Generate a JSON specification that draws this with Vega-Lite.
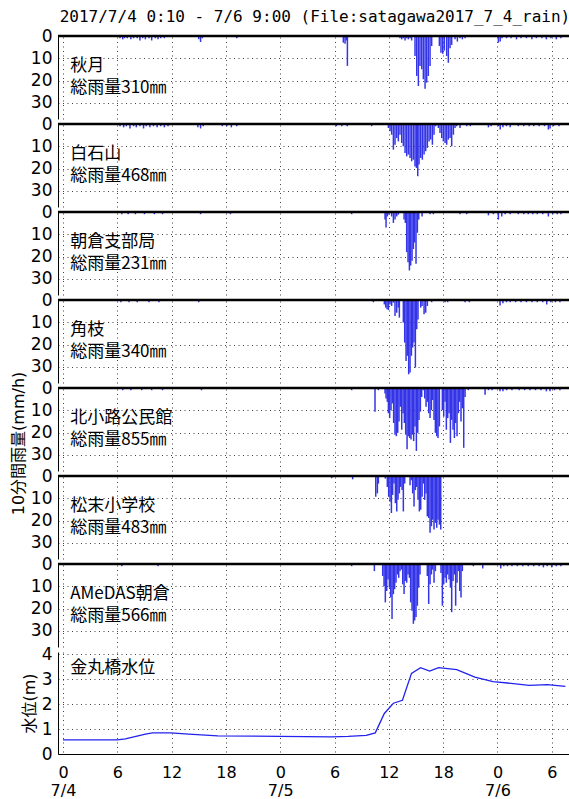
{
  "$schema": "https://vega.github.io/schema/vega-lite/v6.json",
  "padding": {"left": 10, "top": 9, "right": 0, "bottom": 0},
  "bounds": "flush",
  "title": {"text": "2017/7/4 0:10 - 7/6 9:00 (File:satagawa2017_7_4_rain)", "font": "DejaVu Sans Mono", "fontSize": 16, "fontWeight": "normal", "anchor": "end", "offset": 2, "color": "#000"},
  "config": {
    "view": {"stroke": null},
    "axis": {"gridColor": "#000", "gridDash": [1, 3.5], "gridOpacity": 0.75, "gridWidth": 1, "labelFont": "DejaVu Sans", "labelFontSize": 17, "labelColor": "#000", "labelOverlap": false, "domainColor": "#000", "domainWidth": 1, "titleFont": "'DejaVu Sans', 'Noto Sans CJK JP'", "titleFontSize": 16, "titleFontWeight": "normal", "titleColor": "#000", "ticks": false, "labelPadding": 6, "titlePadding": 4}
  },
  "datasets": {
    "labels": [
      {"s": "秋月", "name": "秋月", "total": "総雨量310㎜"},
      {"s": "白石山", "name": "白石山", "total": "総雨量468㎜"},
      {"s": "朝倉支部局", "name": "朝倉支部局", "total": "総雨量231㎜"},
      {"s": "角枝", "name": "角枝", "total": "総雨量340㎜"},
      {"s": "北小路公民館", "name": "北小路公民館", "total": "総雨量855㎜"},
      {"s": "松末小学校", "name": "松末小学校", "total": "総雨量483㎜"},
      {"s": "AMeDAS朝倉", "name": "AMeDAS朝倉", "total": "総雨量566㎜"},
      {"s": "金丸橋", "name": "金丸橋水位", "total": ""}
    ],
    "level": [
      {"t": 0, "v": 0.57}, {"t": 6, "v": 0.57}, {"t": 6.9, "v": 0.61}, {"t": 9.1, "v": 0.8}, {"t": 9.9, "v": 0.85}, {"t": 11.9, "v": 0.85}, {"t": 13.9, "v": 0.8}, {"t": 17.1, "v": 0.73}, {"t": 23.9, "v": 0.71}, {"t": 29.7, "v": 0.69}, {"t": 31.5, "v": 0.71}, {"t": 33.5, "v": 0.75}, {"t": 34.5, "v": 0.85}, {"t": 35.5, "v": 1.63}, {"t": 36.5, "v": 2.04}, {"t": 37.5, "v": 2.16}, {"t": 38.5, "v": 3.24}, {"t": 39.5, "v": 3.47}, {"t": 40.5, "v": 3.33}, {"t": 41.5, "v": 3.47}, {"t": 43.5, "v": 3.39}, {"t": 45.5, "v": 3.09}, {"t": 47.5, "v": 2.91}, {"t": 49.5, "v": 2.84}, {"t": 51.5, "v": 2.76}, {"t": 53.5, "v": 2.79}, {"t": 55.5, "v": 2.72}
    ],
    "rain": [
      {"s": "秋月", "t": 6.3, "v": 1}, {"s": "秋月", "t": 6.6, "v": 1.5}, {"s": "秋月", "t": 6.8, "v": 1}, {"s": "秋月", "t": 7.1, "v": 1}, {"s": "秋月", "t": 7.5, "v": 1.5}, {"s": "秋月", "t": 7.8, "v": 1}, {"s": "秋月", "t": 8.2, "v": 1}, {"s": "秋月", "t": 8.5, "v": 2}, {"s": "秋月", "t": 8.8, "v": 1}, {"s": "秋月", "t": 9.1, "v": 1.5}, {"s": "秋月", "t": 9.5, "v": 1}, {"s": "秋月", "t": 9.8, "v": 2}, {"s": "秋月", "t": 10.2, "v": 1}, {"s": "秋月", "t": 10.5, "v": 1.5}, {"s": "秋月", "t": 10.8, "v": 1}, {"s": "秋月", "t": 11.2, "v": 1},
      {"s": "秋月", "t": 15.0, "v": 1.5}, {"s": "秋月", "t": 15.2, "v": 2.7}, {"s": "秋月", "t": 15.4, "v": 1}, {"s": "秋月", "t": 19.2, "v": 1},
      {"s": "秋月", "t": 30.97, "v": 3}, {"s": "秋月", "t": 31.16, "v": 3.5}, {"s": "秋月", "t": 31.3, "v": 2}, {"s": "秋月", "t": 31.42, "v": 13.4},
      {"s": "秋月", "t": 37.23, "v": 1}, {"s": "秋月", "t": 37.42, "v": 1.5}, {"s": "秋月", "t": 37.6, "v": 1}, {"s": "秋月", "t": 37.79, "v": 2}, {"s": "秋月", "t": 37.97, "v": 1}, {"s": "秋月", "t": 38.15, "v": 1.5}, {"s": "秋月", "t": 38.34, "v": 1}, {"s": "秋月", "t": 38.52, "v": 2},
      {"s": "秋月", "t": 38.89, "v": 9}, {"s": "秋月", "t": 39.08, "v": 17.9}, {"s": "秋月", "t": 39.26, "v": 22.4}, {"s": "秋月", "t": 39.44, "v": 13.4}, {"s": "秋月", "t": 39.63, "v": 14.9}, {"s": "秋月", "t": 39.81, "v": 19.4}, {"s": "秋月", "t": 40.0, "v": 23.6}, {"s": "秋月", "t": 40.18, "v": 20.9}, {"s": "秋月", "t": 40.36, "v": 17.9}, {"s": "秋月", "t": 40.55, "v": 13.4}, {"s": "秋月", "t": 40.73, "v": 4.5},
      {"s": "秋月", "t": 41.58, "v": 4.5}, {"s": "秋月", "t": 41.76, "v": 7.5}, {"s": "秋月", "t": 41.95, "v": 8}, {"s": "秋月", "t": 42.13, "v": 6.5}, {"s": "秋月", "t": 42.39, "v": 9}, {"s": "秋月", "t": 42.57, "v": 12}, {"s": "秋月", "t": 42.76, "v": 5.5}, {"s": "秋月", "t": 42.94, "v": 4},
      {"s": "秋月", "t": 43.31, "v": 1.5}, {"s": "秋月", "t": 43.57, "v": 2.5}, {"s": "秋月", "t": 43.86, "v": 1}, {"s": "秋月", "t": 44.12, "v": 1.5}, {"s": "秋月", "t": 44.42, "v": 1},
      {"s": "秋月", "t": 48.1, "v": 3}, {"s": "秋月", "t": 48.3, "v": 2.5}, {"s": "秋月", "t": 48.5, "v": 1}, {"s": "秋月", "t": 49.0, "v": 1}, {"s": "秋月", "t": 49.5, "v": 1}, {"s": "秋月", "t": 50.1, "v": 1.5}, {"s": "秋月", "t": 50.6, "v": 1}, {"s": "秋月", "t": 51.2, "v": 1}, {"s": "秋月", "t": 51.8, "v": 1.5}, {"s": "秋月", "t": 52.3, "v": 1}, {"s": "秋月", "t": 52.9, "v": 1}, {"s": "秋月", "t": 53.4, "v": 1.5}, {"s": "秋月", "t": 53.9, "v": 1}, {"s": "秋月", "t": 54.5, "v": 1.5}, {"s": "秋月", "t": 55.0, "v": 1},

      {"s": "白石山", "t": 6.3, "v": 1}, {"s": "白石山", "t": 6.7, "v": 1.5}, {"s": "白石山", "t": 7.0, "v": 1}, {"s": "白石山", "t": 7.4, "v": 2}, {"s": "白石山", "t": 7.8, "v": 1}, {"s": "白石山", "t": 8.1, "v": 1.5}, {"s": "白石山", "t": 8.5, "v": 1}, {"s": "白石山", "t": 8.9, "v": 2}, {"s": "白石山", "t": 9.2, "v": 1}, {"s": "白石山", "t": 9.6, "v": 1.5}, {"s": "白石山", "t": 10.0, "v": 1}, {"s": "白石山", "t": 10.4, "v": 1.5}, {"s": "白石山", "t": 10.8, "v": 1}, {"s": "白石山", "t": 11.2, "v": 1.5}, {"s": "白石山", "t": 11.6, "v": 1},
      {"s": "白石山", "t": 14.9, "v": 1.5}, {"s": "白石山", "t": 15.2, "v": 2}, {"s": "白石山", "t": 15.5, "v": 1}, {"s": "白石山", "t": 17.6, "v": 1}, {"s": "白石山", "t": 18.1, "v": 1}, {"s": "白石山", "t": 18.6, "v": 1.5}, {"s": "白石山", "t": 19.2, "v": 1},
      {"s": "白石山", "t": 30.2, "v": 1}, {"s": "白石山", "t": 30.8, "v": 1}, {"s": "白石山", "t": 31.4, "v": 1}, {"s": "白石山", "t": 34.1, "v": 1},
      {"s": "白石山", "t": 35.95, "v": 1.8}, {"s": "白石山", "t": 36.13, "v": 3.3}, {"s": "白石山", "t": 36.31, "v": 4.8}, {"s": "白石山", "t": 36.5, "v": 11.5}, {"s": "白石山", "t": 36.68, "v": 9.3}, {"s": "白石山", "t": 36.87, "v": 6.3}, {"s": "白石山", "t": 37.05, "v": 7.8}, {"s": "白石山", "t": 37.23, "v": 4.8}, {"s": "白石山", "t": 37.42, "v": 8.5}, {"s": "白石山", "t": 37.6, "v": 10}, {"s": "白石山", "t": 37.79, "v": 13}, {"s": "白石山", "t": 37.97, "v": 14.5}, {"s": "白石山", "t": 38.15, "v": 13.7}, {"s": "白石山", "t": 38.34, "v": 15.2}, {"s": "白石山", "t": 38.52, "v": 16.7}, {"s": "白石山", "t": 38.71, "v": 16}, {"s": "白石山", "t": 38.89, "v": 19}, {"s": "白石山", "t": 39.05, "v": 19.7}, {"s": "白石山", "t": 39.19, "v": 23.4}, {"s": "白石山", "t": 39.33, "v": 18.2}, {"s": "白石山", "t": 39.52, "v": 15.2}, {"s": "白石山", "t": 39.7, "v": 16}, {"s": "白石山", "t": 39.89, "v": 13.7}, {"s": "白石山", "t": 40.07, "v": 12.2}, {"s": "白石山", "t": 40.25, "v": 10.7}, {"s": "白石山", "t": 40.44, "v": 7.8}, {"s": "白石山", "t": 40.62, "v": 7}, {"s": "白石山", "t": 40.81, "v": 9.3}, {"s": "白石山", "t": 40.99, "v": 4.8}, {"s": "白石山", "t": 41.18, "v": 1},
      {"s": "白石山", "t": 41.47, "v": 1.8}, {"s": "白石山", "t": 41.65, "v": 4}, {"s": "白石山", "t": 41.84, "v": 6.3}, {"s": "白石山", "t": 42.02, "v": 7.8}, {"s": "白石山", "t": 42.21, "v": 8.5}, {"s": "白石山", "t": 42.39, "v": 9.3}, {"s": "白石山", "t": 42.57, "v": 7}, {"s": "白石山", "t": 42.76, "v": 6.3}, {"s": "白石山", "t": 42.94, "v": 10}, {"s": "白石山", "t": 43.13, "v": 4.8}, {"s": "白石山", "t": 43.31, "v": 1.8}, {"s": "白石山", "t": 43.5, "v": 1}, {"s": "白石山", "t": 43.86, "v": 1.8},
      {"s": "白石山", "t": 44.6, "v": 1}, {"s": "白石山", "t": 45.0, "v": 1}, {"s": "白石山", "t": 47.0, "v": 1.5}, {"s": "白石山", "t": 47.3, "v": 1}, {"s": "白石山", "t": 48.1, "v": 1}, {"s": "白石山", "t": 48.3, "v": 2.5}, {"s": "白石山", "t": 48.6, "v": 1.5}, {"s": "白石山", "t": 49.0, "v": 1}, {"s": "白石山", "t": 49.4, "v": 1.5}, {"s": "白石山", "t": 50.3, "v": 1}, {"s": "白石山", "t": 50.9, "v": 1}, {"s": "白石山", "t": 51.5, "v": 1}, {"s": "白石山", "t": 52.0, "v": 1}, {"s": "白石山", "t": 52.6, "v": 1}, {"s": "白石山", "t": 53.2, "v": 1}, {"s": "白石山", "t": 53.62, "v": 2.5}, {"s": "白石山", "t": 53.81, "v": 2}, {"s": "白石山", "t": 54.2, "v": 1}, {"s": "白石山", "t": 54.8, "v": 1},

      {"s": "朝倉支部局", "t": 6.5, "v": 1}, {"s": "朝倉支部局", "t": 7.2, "v": 1}, {"s": "朝倉支部局", "t": 8.0, "v": 1}, {"s": "朝倉支部局", "t": 9.0, "v": 1}, {"s": "朝倉支部局", "t": 10.1, "v": 1}, {"s": "朝倉支部局", "t": 11.0, "v": 1}, {"s": "朝倉支部局", "t": 15.2, "v": 1}, {"s": "朝倉支部局", "t": 18.5, "v": 1}, {"s": "朝倉支部局", "t": 31.89, "v": 1},
      {"s": "朝倉支部局", "t": 35.58, "v": 3.4}, {"s": "朝倉支部局", "t": 35.69, "v": 7}, {"s": "朝倉支部局", "t": 35.83, "v": 2}, {"s": "朝倉支部局", "t": 36.02, "v": 1.2}, {"s": "朝倉支部局", "t": 36.31, "v": 2}, {"s": "朝倉支部局", "t": 36.5, "v": 4.9}, {"s": "朝倉支部局", "t": 36.68, "v": 3.4}, {"s": "朝倉支部局", "t": 36.87, "v": 2}, {"s": "朝倉支部局", "t": 37.05, "v": 1.2},
      {"s": "朝倉支部局", "t": 37.68, "v": 3.4}, {"s": "朝倉支部局", "t": 37.82, "v": 4.9}, {"s": "朝倉支部局", "t": 37.97, "v": 18}, {"s": "朝倉支部局", "t": 38.12, "v": 22.5}, {"s": "朝倉支部局", "t": 38.27, "v": 26.2}, {"s": "朝倉支部局", "t": 38.41, "v": 24}, {"s": "朝倉支部局", "t": 38.56, "v": 21.8}, {"s": "朝倉支部局", "t": 38.71, "v": 16.6}, {"s": "朝倉支部局", "t": 38.85, "v": 13.7}, {"s": "朝倉支部局", "t": 39.0, "v": 23.2}, {"s": "朝倉支部局", "t": 39.15, "v": 9.3}, {"s": "朝倉支部局", "t": 39.3, "v": 3.4},
      {"s": "朝倉支部局", "t": 39.67, "v": 2}, {"s": "朝倉支部局", "t": 40.55, "v": 1}, {"s": "朝倉支部局", "t": 40.92, "v": 1}, {"s": "朝倉支部局", "t": 43.86, "v": 1}, {"s": "朝倉支部局", "t": 44.6, "v": 1}, {"s": "朝倉支部局", "t": 47.0, "v": 1.5}, {"s": "朝倉支部局", "t": 47.55, "v": 1}, {"s": "朝倉支部局", "t": 48.1, "v": 3.4}, {"s": "朝倉支部局", "t": 48.47, "v": 2}, {"s": "朝倉支部局", "t": 48.84, "v": 1}, {"s": "朝倉支部局", "t": 49.4, "v": 1}, {"s": "朝倉支部局", "t": 50.3, "v": 1}, {"s": "朝倉支部局", "t": 50.9, "v": 1}, {"s": "朝倉支部局", "t": 51.4, "v": 1}, {"s": "朝倉支部局", "t": 51.9, "v": 1}, {"s": "朝倉支部局", "t": 52.4, "v": 1}, {"s": "朝倉支部局", "t": 53.0, "v": 1}, {"s": "朝倉支部局", "t": 53.62, "v": 2}, {"s": "朝倉支部局", "t": 54.1, "v": 1}, {"s": "朝倉支部局", "t": 54.6, "v": 1}, {"s": "朝倉支部局", "t": 55.0, "v": 1},

      {"s": "角枝", "t": 6.4, "v": 1}, {"s": "角枝", "t": 7.3, "v": 1}, {"s": "角枝", "t": 8.2, "v": 1}, {"s": "角枝", "t": 9.5, "v": 1}, {"s": "角枝", "t": 10.6, "v": 1}, {"s": "角枝", "t": 15.0, "v": 1}, {"s": "角枝", "t": 34.29, "v": 1},
      {"s": "角枝", "t": 35.5, "v": 2}, {"s": "角枝", "t": 35.65, "v": 3.4}, {"s": "角枝", "t": 35.8, "v": 4.2}, {"s": "角枝", "t": 35.95, "v": 4.5}, {"s": "角枝", "t": 36.13, "v": 2}, {"s": "角枝", "t": 36.31, "v": 2.7}, {"s": "角枝", "t": 36.5, "v": 1.2}, {"s": "角枝", "t": 36.68, "v": 7.2}, {"s": "角枝", "t": 36.87, "v": 5.7}, {"s": "角枝", "t": 37.05, "v": 3.4}, {"s": "角枝", "t": 37.16, "v": 7.9},
      {"s": "角枝", "t": 37.6, "v": 10.1}, {"s": "角枝", "t": 37.75, "v": 19.1}, {"s": "角枝", "t": 37.9, "v": 27.3}, {"s": "角枝", "t": 38.04, "v": 25}, {"s": "角枝", "t": 38.19, "v": 33.3}, {"s": "角枝", "t": 38.34, "v": 32.5}, {"s": "角枝", "t": 38.49, "v": 25}, {"s": "角枝", "t": 38.63, "v": 21.3}, {"s": "角枝", "t": 38.78, "v": 19.1}, {"s": "角枝", "t": 38.93, "v": 30.3}, {"s": "角枝", "t": 39.08, "v": 13.1}, {"s": "角枝", "t": 39.22, "v": 8.7},
      {"s": "角枝", "t": 39.52, "v": 3.4}, {"s": "角枝", "t": 39.67, "v": 2.7}, {"s": "角枝", "t": 39.89, "v": 6.4}, {"s": "角枝", "t": 40.07, "v": 5.7}, {"s": "角枝", "t": 40.25, "v": 2.7}, {"s": "角枝", "t": 40.73, "v": 1}, {"s": "角枝", "t": 42.21, "v": 1}, {"s": "角枝", "t": 42.5, "v": 1}, {"s": "角枝", "t": 44.42, "v": 1}, {"s": "角枝", "t": 44.9, "v": 1},
      {"s": "角枝", "t": 48.28, "v": 2.5}, {"s": "角枝", "t": 48.6, "v": 1.5}, {"s": "角枝", "t": 49.0, "v": 1}, {"s": "角枝", "t": 49.4, "v": 1}, {"s": "角枝", "t": 50.0, "v": 1}, {"s": "角枝", "t": 50.6, "v": 1}, {"s": "角枝", "t": 51.2, "v": 1}, {"s": "角枝", "t": 51.8, "v": 1}, {"s": "角枝", "t": 52.4, "v": 1}, {"s": "角枝", "t": 53.0, "v": 1}, {"s": "角枝", "t": 53.44, "v": 2}, {"s": "角枝", "t": 53.9, "v": 1}, {"s": "角枝", "t": 54.4, "v": 1}, {"s": "角枝", "t": 54.9, "v": 1},

      {"s": "北小路公民館", "t": 6.6, "v": 1}, {"s": "北小路公民館", "t": 7.5, "v": 1}, {"s": "北小路公民館", "t": 8.7, "v": 1}, {"s": "北小路公民館", "t": 9.8, "v": 1}, {"s": "北小路公民館", "t": 11.0, "v": 1}, {"s": "北小路公民館", "t": 15.3, "v": 1}, {"s": "北小路公民館", "t": 31.89, "v": 1},
      {"s": "北小路公民館", "t": 34.47, "v": 10.6}, {"s": "北小路公民館", "t": 34.84, "v": 1},
      {"s": "北小路公民館", "t": 35.58, "v": 2.5}, {"s": "北小路公民館", "t": 35.69, "v": 4.7}, {"s": "北小路公民館", "t": 35.83, "v": 6.2}, {"s": "北小路公民館", "t": 35.95, "v": 11.3}, {"s": "北小路公民館", "t": 36.09, "v": 13.5}, {"s": "北小路公民館", "t": 36.24, "v": 9.9}, {"s": "北小路公民館", "t": 36.39, "v": 6.9}, {"s": "北小路公民館", "t": 36.53, "v": 15.7}, {"s": "北小路公民館", "t": 36.68, "v": 20.9}, {"s": "北小路公民館", "t": 36.83, "v": 21.6}, {"s": "北小路公民館", "t": 36.98, "v": 20.1}, {"s": "北小路公民館", "t": 37.12, "v": 15}, {"s": "北小路公民館", "t": 37.27, "v": 8.4}, {"s": "北小路公民館", "t": 37.42, "v": 18.7}, {"s": "北小路公民館", "t": 37.57, "v": 11.3}, {"s": "北小路公民館", "t": 37.71, "v": 15.7}, {"s": "北小路公民館", "t": 37.86, "v": 20.9}, {"s": "北小路公民館", "t": 38.01, "v": 27.5}, {"s": "北小路公民館", "t": 38.15, "v": 21.6}, {"s": "北小路公民館", "t": 38.3, "v": 22.4}, {"s": "北小路公民館", "t": 38.45, "v": 23.1}, {"s": "北小路公民館", "t": 38.6, "v": 20.9}, {"s": "北小路公民館", "t": 38.74, "v": 23.8}, {"s": "北小路公民館", "t": 38.89, "v": 17.2}, {"s": "北小路公民館", "t": 39.04, "v": 28.2}, {"s": "北小路公民館", "t": 39.19, "v": 20.1}, {"s": "北小路公民館", "t": 39.33, "v": 14.3}, {"s": "北小路公民館", "t": 39.48, "v": 10.6}, {"s": "北小路公民館", "t": 39.63, "v": 4}, {"s": "北小路公民館", "t": 39.81, "v": 1}, {"s": "北小路公民館", "t": 39.96, "v": 4.7}, {"s": "北小路公民館", "t": 40.11, "v": 8.4}, {"s": "北小路公民館", "t": 40.25, "v": 6.2}, {"s": "北小路公民館", "t": 40.4, "v": 11.3}, {"s": "北小路公民館", "t": 40.55, "v": 13.5}, {"s": "北小路公民館", "t": 40.7, "v": 9.9}, {"s": "北小路公民館", "t": 40.84, "v": 5.4}, {"s": "北小路公民館", "t": 40.99, "v": 14.3}, {"s": "北小路公民館", "t": 41.14, "v": 20.1}, {"s": "北小路公民館", "t": 41.29, "v": 21.6}, {"s": "北小路公民館", "t": 41.43, "v": 22.4}, {"s": "北小路公民館", "t": 41.58, "v": 17.2},
      {"s": "北小路公民館", "t": 41.91, "v": 9.9}, {"s": "北小路公民館", "t": 42.06, "v": 12.8}, {"s": "北小路公民館", "t": 42.21, "v": 6.2}, {"s": "北小路公民館", "t": 42.35, "v": 18.7}, {"s": "北小路公民館", "t": 42.5, "v": 13.5}, {"s": "北小路公民館", "t": 42.65, "v": 11.3}, {"s": "北小路公民館", "t": 42.8, "v": 24.6}, {"s": "北小路公民館", "t": 42.94, "v": 14.3}, {"s": "北小路公民館", "t": 43.09, "v": 18.7}, {"s": "北小路公民館", "t": 43.24, "v": 22.4}, {"s": "北小路公民館", "t": 43.38, "v": 15.7}, {"s": "北小路公民館", "t": 43.53, "v": 21.6}, {"s": "北小路公民館", "t": 43.68, "v": 11.3}, {"s": "北小路公民館", "t": 43.83, "v": 6.2}, {"s": "北小路公民館", "t": 43.97, "v": 15}, {"s": "北小路公民館", "t": 44.12, "v": 9.1}, {"s": "北小路公民館", "t": 44.27, "v": 26.8}, {"s": "北小路公民館", "t": 44.42, "v": 4},
      {"s": "北小路公民館", "t": 44.78, "v": 1}, {"s": "北小路公民館", "t": 46.63, "v": 3}, {"s": "北小路公民館", "t": 47.0, "v": 1}, {"s": "北小路公民館", "t": 47.4, "v": 1}, {"s": "北小路公民館", "t": 48.28, "v": 1.5}, {"s": "北小路公民館", "t": 48.6, "v": 1.5}, {"s": "北小路公民館", "t": 49.0, "v": 1}, {"s": "北小路公民館", "t": 49.6, "v": 1}, {"s": "北小路公民館", "t": 50.4, "v": 1}, {"s": "北小路公民館", "t": 51.0, "v": 1}, {"s": "北小路公民館", "t": 51.6, "v": 1}, {"s": "北小路公民館", "t": 52.2, "v": 1}, {"s": "北小路公民館", "t": 52.8, "v": 1}, {"s": "北小路公民館", "t": 53.4, "v": 1.5}, {"s": "北小路公民館", "t": 53.8, "v": 1.5}, {"s": "北小路公民館", "t": 54.3, "v": 1}, {"s": "北小路公民館", "t": 54.9, "v": 1},

      {"s": "松末小学校", "t": 29.68, "v": 1}, {"s": "松末小学校", "t": 32.0, "v": 1.5},
      {"s": "松末小学校", "t": 34.55, "v": 9.3}, {"s": "松末小学校", "t": 34.73, "v": 7.8}, {"s": "松末小学校", "t": 34.84, "v": 3.4},
      {"s": "松末小学校", "t": 35.61, "v": 1.2}, {"s": "松末小学校", "t": 35.83, "v": 4.9}, {"s": "松末小学校", "t": 35.98, "v": 9.3}, {"s": "松末小学校", "t": 36.13, "v": 11.5}, {"s": "松末小学校", "t": 36.28, "v": 16.6}, {"s": "松末小学校", "t": 36.42, "v": 8.5}, {"s": "松末小学校", "t": 36.57, "v": 3.4}, {"s": "松末小学校", "t": 36.72, "v": 12.2}, {"s": "松末小学校", "t": 36.87, "v": 15.9}, {"s": "松末小学校", "t": 37.01, "v": 10.7}, {"s": "松末小学校", "t": 37.16, "v": 7.8}, {"s": "松末小学校", "t": 37.31, "v": 4.9}, {"s": "松末小学校", "t": 37.46, "v": 6.3}, {"s": "松末小学校", "t": 37.6, "v": 15.9}, {"s": "松末小学校", "t": 37.75, "v": 3.4}, {"s": "松末小学校", "t": 37.9, "v": 0.5},
      {"s": "松末小学校", "t": 38.34, "v": 4.1}, {"s": "松末小学校", "t": 38.49, "v": 1.9}, {"s": "松末小学校", "t": 38.63, "v": 7.8}, {"s": "松末小学校", "t": 38.78, "v": 13.7}, {"s": "松末小学校", "t": 38.93, "v": 6.3}, {"s": "松末小学校", "t": 39.08, "v": 4.9}, {"s": "松末小学校", "t": 39.22, "v": 10.7}, {"s": "松末小学校", "t": 39.37, "v": 15.9}, {"s": "松末小学校", "t": 39.52, "v": 15.1}, {"s": "松末小学校", "t": 39.67, "v": 9.3}, {"s": "松末小学校", "t": 39.81, "v": 3.4}, {"s": "松末小学校", "t": 39.96, "v": 10.7}, {"s": "松末小学校", "t": 40.11, "v": 7.8}, {"s": "松末小学校", "t": 40.25, "v": 18.1}, {"s": "松末小学校", "t": 40.4, "v": 18.8}, {"s": "松末小学校", "t": 40.55, "v": 25.4}, {"s": "松末小学校", "t": 40.7, "v": 22.5}, {"s": "松末小学校", "t": 40.84, "v": 19.6}, {"s": "松末小学校", "t": 40.99, "v": 24}, {"s": "松末小学校", "t": 41.14, "v": 21}, {"s": "松末小学校", "t": 41.29, "v": 23.2}, {"s": "松末小学校", "t": 41.43, "v": 19.6}, {"s": "松末小学校", "t": 41.58, "v": 21.8}, {"s": "松末小学校", "t": 41.73, "v": 24},

      {"s": "AMeDAS朝倉", "t": 6.5, "v": 1}, {"s": "AMeDAS朝倉", "t": 7.2, "v": 0.5}, {"s": "AMeDAS朝倉", "t": 9.6, "v": 0.5}, {"s": "AMeDAS朝倉", "t": 10.5, "v": 1}, {"s": "AMeDAS朝倉", "t": 13.5, "v": 0.5}, {"s": "AMeDAS朝倉", "t": 31.89, "v": 1}, {"s": "AMeDAS朝倉", "t": 34.4, "v": 3.2},
      {"s": "AMeDAS朝倉", "t": 35.32, "v": 5.4}, {"s": "AMeDAS朝倉", "t": 35.47, "v": 9.9}, {"s": "AMeDAS朝倉", "t": 35.61, "v": 17.2}, {"s": "AMeDAS朝倉", "t": 35.76, "v": 12.1}, {"s": "AMeDAS朝倉", "t": 35.91, "v": 6.9}, {"s": "AMeDAS朝倉", "t": 36.06, "v": 10.6}, {"s": "AMeDAS朝倉", "t": 36.2, "v": 15}, {"s": "AMeDAS朝倉", "t": 36.35, "v": 24.6}, {"s": "AMeDAS朝倉", "t": 36.5, "v": 13.5}, {"s": "AMeDAS朝倉", "t": 36.64, "v": 11.3}, {"s": "AMeDAS朝倉", "t": 36.79, "v": 8.4}, {"s": "AMeDAS朝倉", "t": 36.94, "v": 4.7}, {"s": "AMeDAS朝倉", "t": 37.09, "v": 6.2}, {"s": "AMeDAS朝倉", "t": 37.23, "v": 3.2}, {"s": "AMeDAS朝倉", "t": 37.38, "v": 2.5}, {"s": "AMeDAS朝倉", "t": 37.53, "v": 9.1}, {"s": "AMeDAS朝倉", "t": 37.68, "v": 13.5}, {"s": "AMeDAS朝倉", "t": 37.82, "v": 7.6}, {"s": "AMeDAS朝倉", "t": 37.97, "v": 8.4}, {"s": "AMeDAS朝倉", "t": 38.12, "v": 4.7}, {"s": "AMeDAS朝倉", "t": 38.27, "v": 6.2}, {"s": "AMeDAS朝倉", "t": 38.41, "v": 17.2}, {"s": "AMeDAS朝倉", "t": 38.56, "v": 20.9}, {"s": "AMeDAS朝倉", "t": 38.71, "v": 26.8}, {"s": "AMeDAS朝倉", "t": 38.85, "v": 25.3}, {"s": "AMeDAS朝倉", "t": 39.0, "v": 23.8}, {"s": "AMeDAS朝倉", "t": 39.15, "v": 18.7}, {"s": "AMeDAS朝倉", "t": 39.3, "v": 10.6}, {"s": "AMeDAS朝倉", "t": 39.44, "v": 4.7},
      {"s": "AMeDAS朝倉", "t": 40.25, "v": 5.4}, {"s": "AMeDAS朝倉", "t": 40.4, "v": 17.9}, {"s": "AMeDAS朝倉", "t": 40.55, "v": 9.1}, {"s": "AMeDAS朝倉", "t": 40.7, "v": 4.7}, {"s": "AMeDAS朝倉", "t": 40.84, "v": 2.5}, {"s": "AMeDAS朝倉", "t": 40.99, "v": 8.4}, {"s": "AMeDAS朝倉", "t": 41.14, "v": 3.2},
      {"s": "AMeDAS朝倉", "t": 41.76, "v": 4}, {"s": "AMeDAS朝倉", "t": 41.91, "v": 18.7}, {"s": "AMeDAS朝倉", "t": 42.06, "v": 9.1}, {"s": "AMeDAS朝倉", "t": 42.21, "v": 6.2}, {"s": "AMeDAS朝倉", "t": 42.35, "v": 8.4}, {"s": "AMeDAS朝倉", "t": 42.5, "v": 4.7}, {"s": "AMeDAS朝倉", "t": 42.65, "v": 6.9}, {"s": "AMeDAS朝倉", "t": 42.8, "v": 10.6}, {"s": "AMeDAS朝倉", "t": 42.94, "v": 21.6}, {"s": "AMeDAS朝倉", "t": 43.09, "v": 7.6}, {"s": "AMeDAS朝倉", "t": 43.24, "v": 4.7}, {"s": "AMeDAS朝倉", "t": 43.38, "v": 18.7}, {"s": "AMeDAS朝倉", "t": 43.53, "v": 8.4}, {"s": "AMeDAS朝倉", "t": 43.68, "v": 3.2}, {"s": "AMeDAS朝倉", "t": 43.83, "v": 12.1}, {"s": "AMeDAS朝倉", "t": 43.97, "v": 15}, {"s": "AMeDAS朝倉", "t": 44.12, "v": 3.2},
      {"s": "AMeDAS朝倉", "t": 45.34, "v": 1}, {"s": "AMeDAS朝倉", "t": 46.37, "v": 2}, {"s": "AMeDAS朝倉", "t": 48.36, "v": 2}, {"s": "AMeDAS朝倉", "t": 48.7, "v": 1}, {"s": "AMeDAS朝倉", "t": 49.1, "v": 1}, {"s": "AMeDAS朝倉", "t": 49.6, "v": 1}, {"s": "AMeDAS朝倉", "t": 50.2, "v": 1}, {"s": "AMeDAS朝倉", "t": 50.8, "v": 1}, {"s": "AMeDAS朝倉", "t": 51.4, "v": 1}, {"s": "AMeDAS朝倉", "t": 52.0, "v": 1}, {"s": "AMeDAS朝倉", "t": 52.6, "v": 1}, {"s": "AMeDAS朝倉", "t": 53.07, "v": 1.5}, {"s": "AMeDAS朝倉", "t": 53.5, "v": 1}, {"s": "AMeDAS朝倉", "t": 53.99, "v": 1.5}, {"s": "AMeDAS朝倉", "t": 54.5, "v": 1}, {"s": "AMeDAS朝倉", "t": 55.0, "v": 1}
    ]
  },
  "vconcat": [
    {"width": 511, "height": 83, "layer": [
      {"data": {"name": "rain"}, "transform": [{"filter": "datum.s == '秋月'"}], "mark": {"type": "rule", "color": "#3535e8", "strokeWidth": 1.5},
       "encoding": {"x": {"field": "t", "type": "quantitative", "scale": {"domain": [-0.55, 55.9], "nice": false, "zero": false}, "axis": {"values": [0, 6, 12, 18, 24, 30, 36, 42, 48, 54], "labels": false, "domain": false, "title": null, "grid": true}},
                    "y": {"field": "v", "type": "quantitative", "scale": {"domain": [0, 37.2], "reverse": true, "nice": false}, "axis": {"values": [0, 10, 20, 30], "title": null, "grid": true, "labelOverlap": false}},
                    "y2": {"datum": 0}}},
      {"data": {"name": "labels"}, "transform": [{"filter": "datum.s == '秋月'"}], "mark": {"type": "rule", "color": "#000", "strokeWidth": 2.5}, "encoding": {"y": {"datum": 0, "axis": {"values": [0, 10, 20, 30], "title": null, "grid": true, "labelOverlap": false}}}},
      {"data": {"name": "labels"}, "transform": [{"filter": "datum.s == '秋月'"}], "mark": {"type": "text", "font": "Noto Sans CJK JP", "fontSize": 17, "align": "left", "baseline": "middle", "color": "#000"}, "encoding": {"x": {"datum": 0.8, "axis": {"values": [0, 6, 12, 18, 24, 30, 36, 42, 48, 54], "labels": false, "domain": false, "title": null, "grid": true}}, "y": {"datum": 13.4, "axis": {"values": [0, 10, 20, 30], "title": null, "grid": true, "labelOverlap": false}}, "text": {"field": "name"}}},
      {"data": {"name": "labels"}, "transform": [{"filter": "datum.s == '秋月'"}], "mark": {"type": "text", "font": "Noto Sans CJK JP", "fontSize": 17, "align": "left", "baseline": "middle", "color": "#000"}, "encoding": {"x": {"datum": 0.8, "axis": {"values": [0, 6, 12, 18, 24, 30, 36, 42, 48, 54], "labels": false, "domain": false, "title": null, "grid": true}}, "y": {"datum": 23.3, "axis": {"values": [0, 10, 20, 30], "title": null, "grid": true, "labelOverlap": false}}, "text": {"field": "total"}}}
    ]},
    {"width": 511, "height": 83, "layer": [
      {"data": {"name": "rain"}, "transform": [{"filter": "datum.s == '白石山'"}], "mark": {"type": "rule", "color": "#3535e8", "strokeWidth": 1.5},
       "encoding": {"x": {"field": "t", "type": "quantitative", "scale": {"domain": [-0.55, 55.9], "nice": false, "zero": false}, "axis": {"values": [0, 6, 12, 18, 24, 30, 36, 42, 48, 54], "labels": false, "domain": false, "title": null, "grid": true}},
                    "y": {"field": "v", "type": "quantitative", "scale": {"domain": [0, 37.2], "reverse": true, "nice": false}, "axis": {"values": [0, 10, 20, 30], "title": null, "grid": true, "labelOverlap": false}},
                    "y2": {"datum": 0}}},
      {"data": {"name": "labels"}, "transform": [{"filter": "datum.s == '白石山'"}], "mark": {"type": "rule", "color": "#000", "strokeWidth": 2.5}, "encoding": {"y": {"datum": 0, "axis": {"values": [0, 10, 20, 30], "title": null, "grid": true, "labelOverlap": false}}}},
      {"data": {"name": "labels"}, "transform": [{"filter": "datum.s == '白石山'"}], "mark": {"type": "text", "font": "Noto Sans CJK JP", "fontSize": 17, "align": "left", "baseline": "middle", "color": "#000"}, "encoding": {"x": {"datum": 0.8, "axis": {"values": [0, 6, 12, 18, 24, 30, 36, 42, 48, 54], "labels": false, "domain": false, "title": null, "grid": true}}, "y": {"datum": 13.4, "axis": {"values": [0, 10, 20, 30], "title": null, "grid": true, "labelOverlap": false}}, "text": {"field": "name"}}},
      {"data": {"name": "labels"}, "transform": [{"filter": "datum.s == '白石山'"}], "mark": {"type": "text", "font": "Noto Sans CJK JP", "fontSize": 17, "align": "left", "baseline": "middle", "color": "#000"}, "encoding": {"x": {"datum": 0.8, "axis": {"values": [0, 6, 12, 18, 24, 30, 36, 42, 48, 54], "labels": false, "domain": false, "title": null, "grid": true}}, "y": {"datum": 23.3, "axis": {"values": [0, 10, 20, 30], "title": null, "grid": true, "labelOverlap": false}}, "text": {"field": "total"}}}
    ]},
    {"width": 511, "height": 83, "layer": [
      {"data": {"name": "rain"}, "transform": [{"filter": "datum.s == '朝倉支部局'"}], "mark": {"type": "rule", "color": "#3535e8", "strokeWidth": 1.5},
       "encoding": {"x": {"field": "t", "type": "quantitative", "scale": {"domain": [-0.55, 55.9], "nice": false, "zero": false}, "axis": {"values": [0, 6, 12, 18, 24, 30, 36, 42, 48, 54], "labels": false, "domain": false, "title": null, "grid": true}},
                    "y": {"field": "v", "type": "quantitative", "scale": {"domain": [0, 37.2], "reverse": true, "nice": false}, "axis": {"values": [0, 10, 20, 30], "title": null, "grid": true, "labelOverlap": false}},
                    "y2": {"datum": 0}}},
      {"data": {"name": "labels"}, "transform": [{"filter": "datum.s == '朝倉支部局'"}], "mark": {"type": "rule", "color": "#000", "strokeWidth": 2.5}, "encoding": {"y": {"datum": 0, "axis": {"values": [0, 10, 20, 30], "title": null, "grid": true, "labelOverlap": false}}}},
      {"data": {"name": "labels"}, "transform": [{"filter": "datum.s == '朝倉支部局'"}], "mark": {"type": "text", "font": "Noto Sans CJK JP", "fontSize": 17, "align": "left", "baseline": "middle", "color": "#000"}, "encoding": {"x": {"datum": 0.8, "axis": {"values": [0, 6, 12, 18, 24, 30, 36, 42, 48, 54], "labels": false, "domain": false, "title": null, "grid": true}}, "y": {"datum": 13.4, "axis": {"values": [0, 10, 20, 30], "title": null, "grid": true, "labelOverlap": false}}, "text": {"field": "name"}}},
      {"data": {"name": "labels"}, "transform": [{"filter": "datum.s == '朝倉支部局'"}], "mark": {"type": "text", "font": "Noto Sans CJK JP", "fontSize": 17, "align": "left", "baseline": "middle", "color": "#000"}, "encoding": {"x": {"datum": 0.8, "axis": {"values": [0, 6, 12, 18, 24, 30, 36, 42, 48, 54], "labels": false, "domain": false, "title": null, "grid": true}}, "y": {"datum": 23.3, "axis": {"values": [0, 10, 20, 30], "title": null, "grid": true, "labelOverlap": false}}, "text": {"field": "total"}}}
    ]},
    {"width": 511, "height": 83, "layer": [
      {"data": {"name": "rain"}, "transform": [{"filter": "datum.s == '角枝'"}], "mark": {"type": "rule", "color": "#3535e8", "strokeWidth": 1.5},
       "encoding": {"x": {"field": "t", "type": "quantitative", "scale": {"domain": [-0.55, 55.9], "nice": false, "zero": false}, "axis": {"values": [0, 6, 12, 18, 24, 30, 36, 42, 48, 54], "labels": false, "domain": false, "title": null, "grid": true}},
                    "y": {"field": "v", "type": "quantitative", "scale": {"domain": [0, 37.2], "reverse": true, "nice": false}, "axis": {"values": [0, 10, 20, 30], "title": null, "grid": true, "labelOverlap": false}},
                    "y2": {"datum": 0}}},
      {"data": {"name": "labels"}, "transform": [{"filter": "datum.s == '角枝'"}], "mark": {"type": "rule", "color": "#000", "strokeWidth": 2.5}, "encoding": {"y": {"datum": 0, "axis": {"values": [0, 10, 20, 30], "title": null, "grid": true, "labelOverlap": false}}}},
      {"data": {"name": "labels"}, "transform": [{"filter": "datum.s == '角枝'"}], "mark": {"type": "text", "font": "Noto Sans CJK JP", "fontSize": 17, "align": "left", "baseline": "middle", "color": "#000"}, "encoding": {"x": {"datum": 0.8, "axis": {"values": [0, 6, 12, 18, 24, 30, 36, 42, 48, 54], "labels": false, "domain": false, "title": null, "grid": true}}, "y": {"datum": 13.4, "axis": {"values": [0, 10, 20, 30], "title": null, "grid": true, "labelOverlap": false}}, "text": {"field": "name"}}},
      {"data": {"name": "labels"}, "transform": [{"filter": "datum.s == '角枝'"}], "mark": {"type": "text", "font": "Noto Sans CJK JP", "fontSize": 17, "align": "left", "baseline": "middle", "color": "#000"}, "encoding": {"x": {"datum": 0.8, "axis": {"values": [0, 6, 12, 18, 24, 30, 36, 42, 48, 54], "labels": false, "domain": false, "title": null, "grid": true}}, "y": {"datum": 23.3, "axis": {"values": [0, 10, 20, 30], "title": null, "grid": true, "labelOverlap": false}}, "text": {"field": "total"}}}
    ]},
    {"width": 511, "height": 83, "layer": [
      {"data": {"name": "rain"}, "transform": [{"filter": "datum.s == '北小路公民館'"}], "mark": {"type": "rule", "color": "#3535e8", "strokeWidth": 1.5},
       "encoding": {"x": {"field": "t", "type": "quantitative", "scale": {"domain": [-0.55, 55.9], "nice": false, "zero": false}, "axis": {"values": [0, 6, 12, 18, 24, 30, 36, 42, 48, 54], "labels": false, "domain": false, "title": null, "grid": true}},
                    "y": {"field": "v", "type": "quantitative", "scale": {"domain": [0, 37.2], "reverse": true, "nice": false}, "axis": {"values": [0, 10, 20, 30], "title": "10分間雨量(mm/h)", "titleY": 55, "grid": true, "labelOverlap": false}},
                    "y2": {"datum": 0}}},
      {"data": {"name": "labels"}, "transform": [{"filter": "datum.s == '北小路公民館'"}], "mark": {"type": "rule", "color": "#000", "strokeWidth": 2.5}, "encoding": {"y": {"datum": 0, "axis": {"values": [0, 10, 20, 30], "title": "10分間雨量(mm/h)", "titleY": 55, "grid": true, "labelOverlap": false}}}},
      {"data": {"name": "labels"}, "transform": [{"filter": "datum.s == '北小路公民館'"}], "mark": {"type": "text", "font": "Noto Sans CJK JP", "fontSize": 17, "align": "left", "baseline": "middle", "color": "#000"}, "encoding": {"x": {"datum": 0.8, "axis": {"values": [0, 6, 12, 18, 24, 30, 36, 42, 48, 54], "labels": false, "domain": false, "title": null, "grid": true}}, "y": {"datum": 13.4, "axis": {"values": [0, 10, 20, 30], "title": "10分間雨量(mm/h)", "titleY": 55, "grid": true, "labelOverlap": false}}, "text": {"field": "name"}}},
      {"data": {"name": "labels"}, "transform": [{"filter": "datum.s == '北小路公民館'"}], "mark": {"type": "text", "font": "Noto Sans CJK JP", "fontSize": 17, "align": "left", "baseline": "middle", "color": "#000"}, "encoding": {"x": {"datum": 0.8, "axis": {"values": [0, 6, 12, 18, 24, 30, 36, 42, 48, 54], "labels": false, "domain": false, "title": null, "grid": true}}, "y": {"datum": 23.3, "axis": {"values": [0, 10, 20, 30], "title": "10分間雨量(mm/h)", "titleY": 55, "grid": true, "labelOverlap": false}}, "text": {"field": "total"}}}
    ]},
    {"width": 511, "height": 83, "layer": [
      {"data": {"name": "rain"}, "transform": [{"filter": "datum.s == '松末小学校'"}], "mark": {"type": "rule", "color": "#3535e8", "strokeWidth": 1.5},
       "encoding": {"x": {"field": "t", "type": "quantitative", "scale": {"domain": [-0.55, 55.9], "nice": false, "zero": false}, "axis": {"values": [0, 6, 12, 18, 24, 30, 36, 42, 48, 54], "labels": false, "domain": false, "title": null, "grid": true}},
                    "y": {"field": "v", "type": "quantitative", "scale": {"domain": [0, 37.2], "reverse": true, "nice": false}, "axis": {"values": [0, 10, 20, 30], "title": null, "grid": true, "labelOverlap": false}},
                    "y2": {"datum": 0}}},
      {"data": {"name": "labels"}, "transform": [{"filter": "datum.s == '松末小学校'"}], "mark": {"type": "rule", "color": "#000", "strokeWidth": 2.5}, "encoding": {"y": {"datum": 0, "axis": {"values": [0, 10, 20, 30], "title": null, "grid": true, "labelOverlap": false}}}},
      {"data": {"name": "labels"}, "transform": [{"filter": "datum.s == '松末小学校'"}], "mark": {"type": "text", "font": "Noto Sans CJK JP", "fontSize": 17, "align": "left", "baseline": "middle", "color": "#000"}, "encoding": {"x": {"datum": 0.8, "axis": {"values": [0, 6, 12, 18, 24, 30, 36, 42, 48, 54], "labels": false, "domain": false, "title": null, "grid": true}}, "y": {"datum": 13.4, "axis": {"values": [0, 10, 20, 30], "title": null, "grid": true, "labelOverlap": false}}, "text": {"field": "name"}}},
      {"data": {"name": "labels"}, "transform": [{"filter": "datum.s == '松末小学校'"}], "mark": {"type": "text", "font": "Noto Sans CJK JP", "fontSize": 17, "align": "left", "baseline": "middle", "color": "#000"}, "encoding": {"x": {"datum": 0.8, "axis": {"values": [0, 6, 12, 18, 24, 30, 36, 42, 48, 54], "labels": false, "domain": false, "title": null, "grid": true}}, "y": {"datum": 23.3, "axis": {"values": [0, 10, 20, 30], "title": null, "grid": true, "labelOverlap": false}}, "text": {"field": "total"}}}
    ]},
    {"width": 511, "height": 83, "layer": [
      {"data": {"name": "rain"}, "transform": [{"filter": "datum.s == 'AMeDAS朝倉'"}], "mark": {"type": "rule", "color": "#3535e8", "strokeWidth": 1.5},
       "encoding": {"x": {"field": "t", "type": "quantitative", "scale": {"domain": [-0.55, 55.9], "nice": false, "zero": false}, "axis": {"values": [0, 6, 12, 18, 24, 30, 36, 42, 48, 54], "labels": false, "domain": false, "title": null, "grid": true}},
                    "y": {"field": "v", "type": "quantitative", "scale": {"domain": [0, 37.2], "reverse": true, "nice": false}, "axis": {"values": [0, 10, 20, 30], "title": null, "grid": true, "labelOverlap": false}},
                    "y2": {"datum": 0}}},
      {"data": {"name": "labels"}, "transform": [{"filter": "datum.s == 'AMeDAS朝倉'"}], "mark": {"type": "rule", "color": "#000", "strokeWidth": 2.5}, "encoding": {"y": {"datum": 0, "axis": {"values": [0, 10, 20, 30], "title": null, "grid": true, "labelOverlap": false}}}},
      {"data": {"name": "labels"}, "transform": [{"filter": "datum.s == 'AMeDAS朝倉'"}], "mark": {"type": "text", "font": "Noto Sans CJK JP", "fontSize": 17, "align": "left", "baseline": "middle", "color": "#000"}, "encoding": {"x": {"datum": 0.8, "axis": {"values": [0, 6, 12, 18, 24, 30, 36, 42, 48, 54], "labels": false, "domain": false, "title": null, "grid": true}}, "y": {"datum": 13.4, "axis": {"values": [0, 10, 20, 30], "title": null, "grid": true, "labelOverlap": false}}, "text": {"field": "name"}}},
      {"data": {"name": "labels"}, "transform": [{"filter": "datum.s == 'AMeDAS朝倉'"}], "mark": {"type": "text", "font": "Noto Sans CJK JP", "fontSize": 17, "align": "left", "baseline": "middle", "color": "#000"}, "encoding": {"x": {"datum": 0.8, "axis": {"values": [0, 6, 12, 18, 24, 30, 36, 42, 48, 54], "labels": false, "domain": false, "title": null, "grid": true}}, "y": {"datum": 23.3, "axis": {"values": [0, 10, 20, 30], "title": null, "grid": true, "labelOverlap": false}}, "text": {"field": "total"}}}
    ]},
    {"width": 511, "height": 102, "layer": [
      {"data": {"name": "level"}, "mark": {"type": "line", "color": "#2222ee", "strokeWidth": 1.3},
       "encoding": {"x": {"field": "t", "type": "quantitative", "scale": {"domain": [-0.55, 55.9], "nice": false, "zero": false}, "axis": {"values": [0, 6, 12, 18, 24, 30, 36, 42, 48, 54], "title": null, "grid": true, "domain": true, "labelFontSize": 16, "labelLineHeight": 18, "labelPadding": 10, "labelFlush": false, "labelOverlap": false, "labelExpr": "datum.value % 24 == 0 ? [format(datum.value % 24, 'd'), '7/' + format(4 + datum.value / 24, 'd')] : format(datum.value % 24, 'd')"}},
                    "y": {"field": "v", "type": "quantitative", "scale": {"domain": [0, 4.1], "nice": false}, "axis": {"values": [0, 1, 2, 3, 4], "title": "水位(m)", "grid": true, "labelOverlap": false}}}},
      {"data": {"name": "labels"}, "transform": [{"filter": "datum.s == '金丸橋'"}], "mark": {"type": "text", "font": "Noto Sans CJK JP", "fontSize": 17, "align": "left", "baseline": "middle", "color": "#000"},
       "encoding": {"x": {"datum": 0.8, "axis": {"values": [0, 6, 12, 18, 24, 30, 36, 42, 48, 54], "title": null, "grid": true, "domain": true, "labelFontSize": 16, "labelLineHeight": 18, "labelPadding": 10, "labelFlush": false, "labelOverlap": false, "labelExpr": "datum.value % 24 == 0 ? [format(datum.value % 24, 'd'), '7/' + format(4 + datum.value / 24, 'd')] : format(datum.value % 24, 'd')"}},
                    "y": {"datum": 3.45, "axis": {"values": [0, 1, 2, 3, 4], "title": "水位(m)", "grid": true, "labelOverlap": false}}, "text": {"field": "name"}}}
    ]}
  ],
  "spacing": 5
}
